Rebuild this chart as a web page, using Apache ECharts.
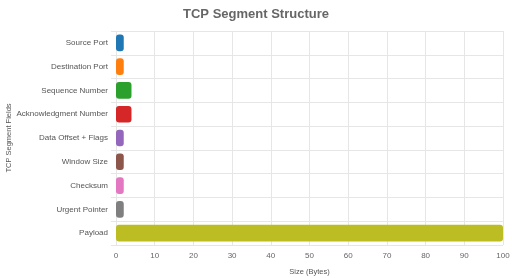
<!DOCTYPE html>
<html><head><meta charset="utf-8">
<script src="https://cdn.jsdelivr.net/npm/echarts@6/dist/echarts.min.js"></script>
<style>html,body{margin:0;padding:0;background:#fff}#c{width:512px;height:278px}</style>
</head><body><div id="c"></div>
<script>
const categories = ["Source Port","Destination Port","Sequence Number","Acknowledgment Number","Data Offset + Flags","Window Size","Checksum","Urgent Pointer","Payload"];
const sizes = [2,2,4,4,2,2,2,2,100];
const colors = ["#1f77b4","#ff7f0e","#2ca02c","#d62728","#9467bd","#8c564b","#e377c2","#7f7f7f","#bcbd22"];
const xTicks = [0,10,20,30,40,50,60,70,80,90,100];

const chart = echarts.init(document.getElementById('c'), null, {renderer:'canvas'});
chart.setOption({
  animation:false,
  textStyle:{fontFamily:'Liberation Sans, Arial, sans-serif'},
  title:{text:'TCP Segment Structure',left:'center',top:3,textStyle:{fontSize:13,fontWeight:'bold',color:'#666',fontFamily:'Liberation Sans, Arial, sans-serif'}},
  grid:{left:116,right:9,top:31,bottom:33,containLabel:false,outerBoundsMode:'none'},
  xAxis:{type:'value',min:0,max:100,interval:10,
    name:'Size (Bytes)',nameLocation:'middle',nameGap:23,nameMoveOverlap:false,nameTextStyle:{fontSize:7.5,color:'#555'},
    axisLine:{show:false},axisTick:{show:false},
    axisLabel:{fontSize:8,color:'#666',margin:7,formatter:v=>xTicks.includes(v)?String(v):''},
    splitLine:{show:true,lineStyle:{color:'#e6e6e6',width:1}}},
  yAxis:{type:'category',data:categories,inverse:true,
    name:'TCP Segment Fields',nameLocation:'middle',nameGap:103,nameMoveOverlap:false,nameRotate:90,nameTextStyle:{fontSize:7.5,color:'#555'},
    axisLine:{show:false},axisTick:{show:true,length:5,lineStyle:{color:'#e6e6e6'}},
    axisLabel:{fontSize:8,color:'#555',margin:8},
    splitLine:{show:true,lineStyle:{color:'#e6e6e6',width:1}}},
  series:[{type:'bar',barWidth:'70%',
    data:sizes.map((v,i)=>({value:v,itemStyle:{color:colors[i],borderRadius:3}}))}]
});
</script></body></html>
